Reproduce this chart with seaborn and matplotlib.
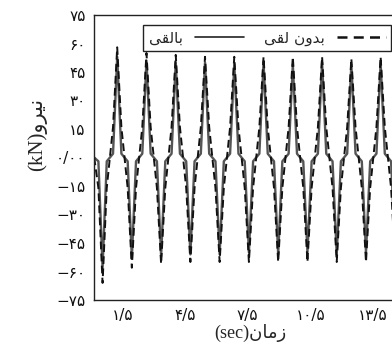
import matplotlib
matplotlib.use("Agg")
import matplotlib.pyplot as plt
import seaborn as sns
from matplotlib.lines import Line2D

sns.set_style("white")
plt.rcParams['font.family'] = ['DejaVu Sans']

# ---- data ----
time = [0.16, 0.36, 0.56,
        0.76, 0.91, 1.06, 1.26, 1.46, 1.61, 1.76, 1.96,
        2.16, 2.31, 2.46, 2.66, 2.86, 3.01, 3.16, 3.36,
        3.56, 3.71, 3.86, 4.06, 4.26, 4.41, 4.56, 4.76,
        4.96, 5.11, 5.26, 5.46, 5.66, 5.81, 5.96, 6.16,
        6.36, 6.51, 6.66, 6.86, 7.06, 7.21, 7.36, 7.56,
        7.76, 7.91, 8.06, 8.26, 8.46, 8.61, 8.76, 8.96,
        9.16, 9.31, 9.46, 9.66, 9.86, 10.01, 10.16, 10.36,
        10.56, 10.71, 10.86, 11.06, 11.26, 11.41, 11.56, 11.76,
        11.96, 12.11, 12.26, 12.46, 12.66, 12.81, 12.96, 13.16,
        13.36, 13.51, 13.66, 13.86, 14.06, 14.21, 14.36, 14.56]

with_gap = [0, -2, -58,
            -2, 0, 2, 53, 2, 0, -2, -53,
            -2, 0, 2, 51, 2, 0, -2, -52,
            -2, 0, 2, 50, 2, 0, -2, -51,
            -2, 0, 2, 50, 2, 0, -2, -51,
            -2, 0, 2, 49, 2, 0, -2, -50,
            -2, 0, 2, 50, 2, 0, -2, -51,
            -2, 0, 2, 49, 2, 0, -2, -50,
            -2, 0, 2, 50, 2, 0, -2, -51,
            -2, 0, 2, 49, 2, 0, -2, -50,
            -2, 0, 2, 50, 2, 0, -2, -50]

without_gap = [0, -16, -66,
               -16, 0, 16, 58, 16, 0, -16, -58,
               -16, 0, 16, 55, 16, 0, -16, -56,
               -16, 0, 16, 54, 16, 0, -16, -55,
               -16, 0, 16, 53, 16, 0, -16, -55,
               -16, 0, 16, 53, 16, 0, -16, -55,
               -16, 0, 16, 53, 16, 0, -16, -55,
               -16, 0, 16, 53, 16, 0, -16, -55,
               -16, 0, 16, 53, 16, 0, -16, -55,
               -16, 0, 16, 52, 16, 0, -16, -55,
               -16, 0, 16, 53, 16, 0, -16, -55]

x_ticks = [1.5, 4.5, 7.5, 10.5, 13.5]
x_tick_labels = ["\u06f1/\u06f5", "\u06f4/\u06f5", "\u06f7/\u06f5", "\u06f1\u06f0/\u06f5", "\u06f1\u06f3/\u06f5"]
y_ticks = [75, 60, 45, 30, 15, 0, -15, -30, -45, -60, -75]
y_tick_labels = ["\u06f7\u06f5", "\u06f6\u06f0", "\u06f4\u06f5", "\u06f3\u06f0", "\u06f1\u06f5", "\u06f0/\u06f0\u06f0",
                 "\u2212\u06f1\u06f5", "\u2212\u06f3\u06f0", "\u2212\u06f4\u06f5", "\u2212\u06f6\u06f0", "\u2212\u06f7\u06f5"]

# Persian labels in visual (shaped, left-to-right) order
label_with = "\ufef0\ufed8\ufedf\ufe8e\ufe91"                     # بالقی
label_without = "\ufef0\ufed8\ufedf \ufee5\ufeed\ufeaa\ufe91"     # بدون لقی
y_label = "(kN)\ufeed\ufeae\ufef4\ufee7"                          # نیرو(kN)
x_label = "(sec)\ufee5\ufe8e\ufee3\ufeaf"                         # زمان(sec)

fig = plt.figure(figsize=(3.92, 3.46), dpi=100)
ax = fig.add_axes([94/392, 1 - 300/346, 300/392, 285/346])

sns.lineplot(x=time, y=with_gap, ax=ax, color="#555555", lw=1.7, sort=False)
sns.lineplot(x=time, y=without_gap, ax=ax, color="#111111", lw=1.4, sort=False,
             linestyle=(0, (4, 2.2)))

ax.set_xlim(0.15, 14.5)
ax.set_ylim(-75, 75)
ax.set_xticks(x_ticks)
ax.set_xticklabels(x_tick_labels, fontsize=11)
ax.set_yticks(y_ticks)
ax.set_yticklabels(y_tick_labels, fontsize=11)
ax.tick_params(axis='both', length=0, pad=6, colors="#111111")

for s in ax.spines.values():
    s.set_visible(True)
    s.set_color("#222222")
    s.set_linewidth(1.0)

ax.set_ylabel(y_label, fontsize=15, family=['Liberation Serif', 'DejaVu Sans'])
ax.yaxis.set_label_coords(-0.155, 0.58)
ax.set_xlabel(x_label, fontsize=13, family=['Liberation Serif', 'DejaVu Sans'])
ax.xaxis.set_label_coords(0.52, -0.085)

handles = [Line2D([], [], color="#222222", lw=1.2),
           Line2D([], [], color="#111111", lw=1.8, linestyle=(0, (4, 2.5)))]
leg = ax.legend(handles, [label_with, label_without], ncol=2, markerfirst=False,
                loc='upper left', bbox_to_anchor=(0.164, 0.0, 0.826, 0.965),
                mode='expand', borderaxespad=0, fontsize=11, frameon=True,
                fancybox=False, handlelength=3.2, handletextpad=0.8,
                borderpad=0.35)
leg.get_frame().set_edgecolor("#222222")
leg.get_frame().set_linewidth(1.0)
leg.get_frame().set_alpha(1)

fig.savefig("out.png", dpi=100)
